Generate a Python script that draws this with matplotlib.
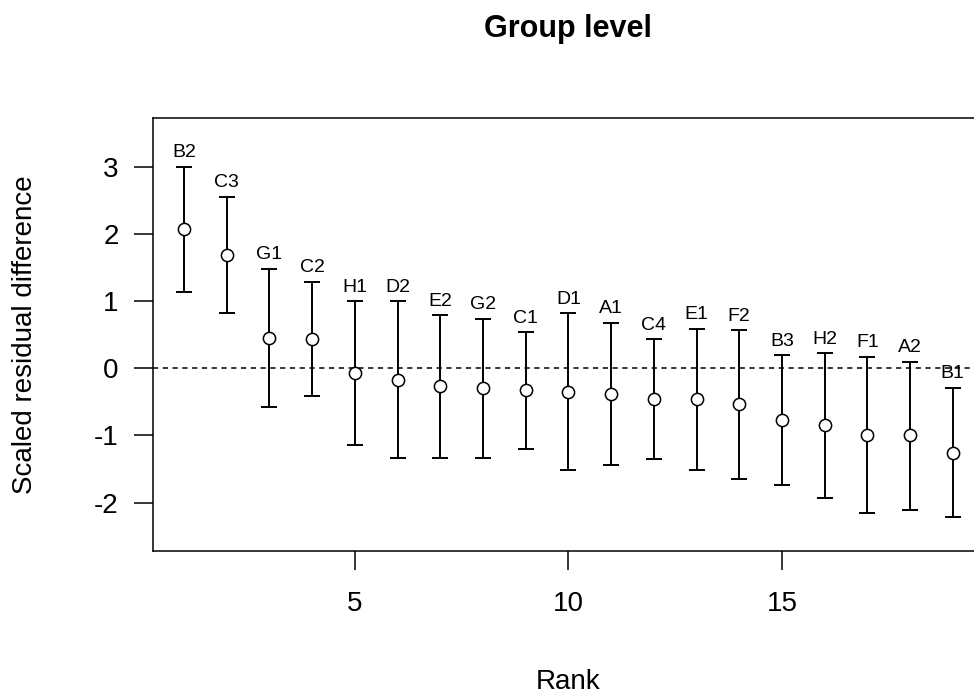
import matplotlib.pyplot as plt

# 数据：按秩排列的缩放残差差异及区间
labels = ['B2', 'C3', 'G1', 'C2', 'H1', 'D2', 'E2', 'G2', 'C1', 'D1',
          'A1', 'C4', 'E1', 'F2', 'B3', 'H2', 'F1', 'A2', 'B1']
estimate = [2.07, 1.68, 0.45, 0.44, -0.07, -0.17, -0.27, -0.29, -0.33, -0.35,
            -0.39, -0.46, -0.46, -0.53, -0.77, -0.85, -1.00, -1.00, -1.26]
upper = [3.00, 2.55, 1.48, 1.29, 1.00, 1.00, 0.79, 0.74, 0.54, 0.82,
         0.68, 0.43, 0.59, 0.57, 0.19, 0.22, 0.17, 0.10, -0.29]
lower = [1.13, 0.82, -0.58, -0.42, -1.14, -1.34, -1.34, -1.33, -1.20, -1.51,
         -1.44, -1.35, -1.52, -1.65, -1.74, -1.93, -2.16, -2.11, -2.21]
rank = list(range(1, len(labels) + 1))

plt.rcParams['font.family'] = ['Liberation Sans', 'DejaVu Sans']
plt.rcParams['axes.unicode_minus'] = False

fig = plt.figure(figsize=(9.74, 6.98), dpi=100)
W, H = 974, 698
ax = fig.add_axes([153.3 / W, 1 - 551 / H, (983.5 - 153.3) / W, (551 - 118.3) / H])

lw = 1.4
ax.axhline(0, color='black', lw=1.1, linestyle=(0, (3.4, 3.0)), zorder=1)

err = [[e - l for e, l in zip(estimate, lower)], [u - e for u, e in zip(upper, estimate)]]
ax.errorbar(rank, estimate, yerr=err, fmt='none', ecolor='black', elinewidth=lw,
            capsize=5.5, capthick=lw, zorder=2)
ax.plot(rank, estimate, 'o', ms=8.8, mfc='white', mec='black', mew=1.1, zorder=3)

for r, u, lab in zip(rank, upper, labels):
    ax.annotate(lab, (r, u), xytext=(0, 6.8), textcoords='offset points',
                ha='center', va='baseline', fontsize=14)

ax.set_xlim(0.28, 19.72)
ax.set_ylim(-2.72, 3.72)
ax.set_xticks([5, 10, 15])
ax.set_yticks([-2, -1, 0, 1, 2, 3])
ax.tick_params(axis='both', length=14, width=1.1, labelsize=20, direction='out')
ax.tick_params(axis='x', pad=15)
ax.tick_params(axis='y', pad=11)
for sp in ax.spines.values():
    sp.set_linewidth(1.1)

fig.text(568 / W, 1 - 37 / H, 'Group level', ha='center', va='baseline',
         fontsize=22, fontweight='bold')
fig.text(568 / W, 1 - 682 / H, 'Rank', ha='center', va='center', fontsize=20)
fig.text(25 / W, 1 - 335 / H, 'Scaled residual difference', ha='center', va='center',
         rotation=90, fontsize=20)

fig.savefig('out.png', dpi=100)
